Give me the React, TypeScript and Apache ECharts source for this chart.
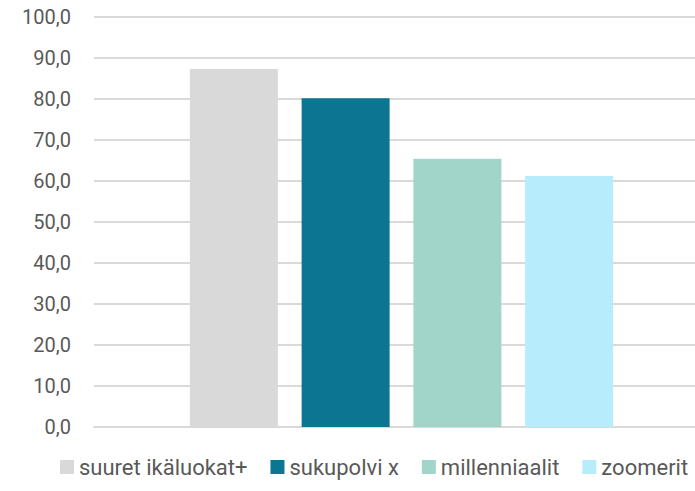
import React, { useEffect, useRef } from "react";
import * as echarts from "echarts";

const seriesNames = ["suuret ikäluokat+", "sukupolvi x", "millenniaalit", "zoomerit"];
const seriesValues = [87.3, 80.2, 65.4, 61.2];
const seriesColors = ["#d9d9d9", "#0b7592", "#a2d5c9", "#b7ecfd"];
const categories = [""];

export default function App() {
  const ref = useRef<HTMLDivElement>(null);
  useEffect(() => {
    const chart = echarts.init(ref.current!, null, { renderer: "svg" });
    const font = "Roboto";
    chart.setOption({
      animation: false,
      backgroundColor: "#ffffff",
      textStyle: { fontFamily: font },
      grid: { left: 94, right: 0, top: 17, bottom: 64, containLabel: false },
      legend: {
        top: 451,
        left: 55,
        itemWidth: 14,
        itemHeight: 14,
        itemGap: 23,
        icon: "rect",
        textStyle: { fontFamily: font, fontSize: 22, color: "#595959" },
        data: seriesNames,
      },
      xAxis: {
        type: "category",
        data: categories,
        axisLine: { show: true, lineStyle: { color: "#d9d9d9", width: 2 } },
        axisTick: { show: false },
        axisLabel: { show: false },
      },
      yAxis: {
        type: "value",
        min: 0,
        max: 100,
        interval: 10,
        axisLine: { show: false },
        axisTick: { show: false },
        splitLine: { lineStyle: { color: "#d9d9d9", width: 2 } },
        axisLabel: {
          margin: 23,
          fontFamily: font,
          fontSize: 20,
          color: "#595959",
          formatter: (v: number) => v.toFixed(1).replace(".", ","),
        },
      },
      series: seriesNames.map((name, i) => ({
        name,
        type: "bar",
        data: [seriesValues[i]],
        barWidth: 88,
        barGap: "27%",
        itemStyle: { color: seriesColors[i] },
      })),
    });
    return () => chart.dispose();
  }, []);
  return (
    <div
      ref={ref}
      style={{ position: "fixed", left: 0, top: 0, width: 709, height: 491 }}
    />
  );
}
